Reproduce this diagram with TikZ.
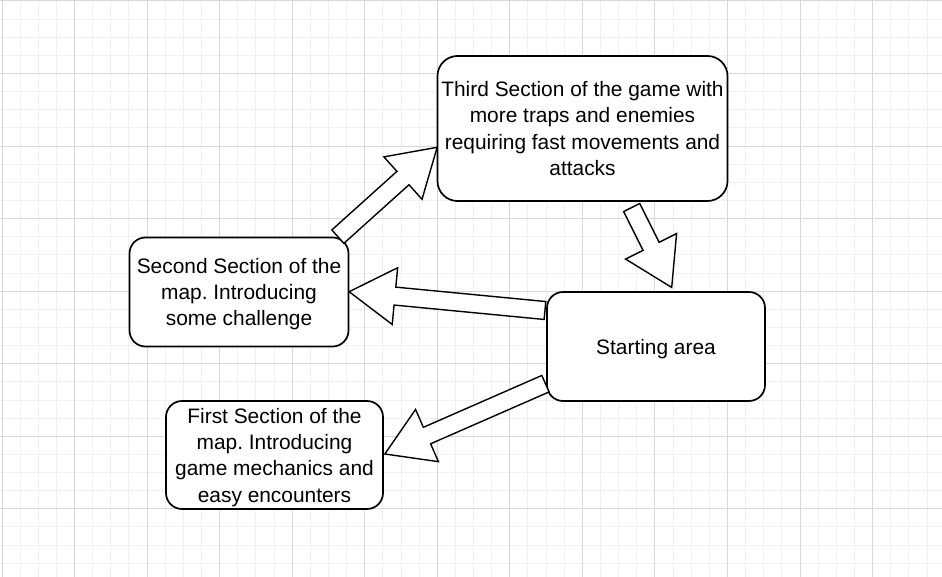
\documentclass[tikz,border=0pt]{standalone}
\usepackage{fontspec}
\setmainfont{Liberation Sans}
\usetikzlibrary{calc}
\frenchspacing
\definecolor{minorgrid}{HTML}{F0F0F0}
\definecolor{majorgrid}{HTML}{D8D8D8}
\tikzset{
  roundbox/.style={draw=black, line width=1.7pt, fill=white, inner sep=0pt, align=center,
    text depth=0pt, font=\fontsize{20.9pt}{26.3pt}\selectfont\frenchspacing},
  blockarr/.style={draw=black, line width=1.4pt, fill=white, line join=miter},
  minorline/.style={draw=minorgrid, line width=1pt},
  majorline/.style={draw=majorgrid, line width=1pt}
}
\newcommand{\blockarrow}[2]{%
  \coordinate (ba-base) at ($(#2)!46pt!(#1)$);
  \draw[blockarr] ($(#1)!9pt!90:(#2)$) -- ($(ba-base)!9pt!90:(#2)$) -- ($(ba-base)!28.5pt!90:(#2)$) -- (#2)
     -- ($(ba-base)!28.5pt!-90:(#2)$) -- ($(ba-base)!9pt!-90:(#2)$) -- ($(#1)!9pt!-90:(#2)$) -- cycle;
}
\begin{document}
\begin{tikzpicture}[x=1pt,y=-1pt]
\useasboundingbox (0,0) rectangle (942,577);
\fill[white] (0,0) rectangle (942,577);
% grid
\foreach \i in {0,...,51} {
  \pgfmathsetmacro\xx{2+18.1375*\i}
  \draw[minorline] (\xx,0) -- (\xx,577);
}
\foreach \j in {0,...,31} {
  \pgfmathsetmacro\yy{1+18.1375*\j}
  \draw[minorline] (0,\yy) -- (942,\yy);
}
\foreach \i in {0,...,12} {
  \pgfmathsetmacro\xx{2+72.55*\i}
  \draw[majorline] (\xx,0) -- (\xx,577);
}
\foreach \j in {0,...,7} {
  \pgfmathsetmacro\yy{1+72.55*\j}
  \draw[majorline] (0,\yy) -- (942,\yy);
}
% boxes
\node[roundbox, rounded corners=20pt, minimum width=290pt, minimum height=145pt] (third) at (582.5,128.5)
  {Third Section of the game with\\more traps and enemies\\requiring fast movements and\\attacks};
\node[roundbox, rounded corners=16pt, minimum width=219pt, minimum height=109pt] (second) at (239,292)
  {Second Section of the\\map. Introducing\\some challenge};
\node[roundbox, rounded corners=16pt, minimum width=217pt, minimum height=108pt] (first) at (274.5,455)
  {First Section of the\\map. Introducing\\game mechanics and\\easy encounters};
\node[roundbox, rounded corners=16pt, minimum width=218pt, minimum height=109pt] (start) at (656,346.5)
  {Starting area};
% arrow end points
\coordinate (a1) at ($(second.north east)+(-11.5,0)$);
\coordinate (b1) at ($(third.west)+(0.5,18.8)$);
\coordinate (a2) at ($(third.south)+(49.2,5.7)$);
\coordinate (b2) at ($(start.north)+(15.7,-3.7)$);
\coordinate (a3) at ($(start.west)+(-1.2,-36)$);
\coordinate (b3) at ($(second.east)+(-0.2,-0.3)$);
\coordinate (a4) at ($(start.west)+(-0.7,37.2)$);
\coordinate (b4) at ($(first.east)+(1,-1)$);
\blockarrow{a1}{b1}
\blockarrow{a2}{b2}
\blockarrow{a3}{b3}
\blockarrow{a4}{b4}
\end{tikzpicture}
\end{document}
